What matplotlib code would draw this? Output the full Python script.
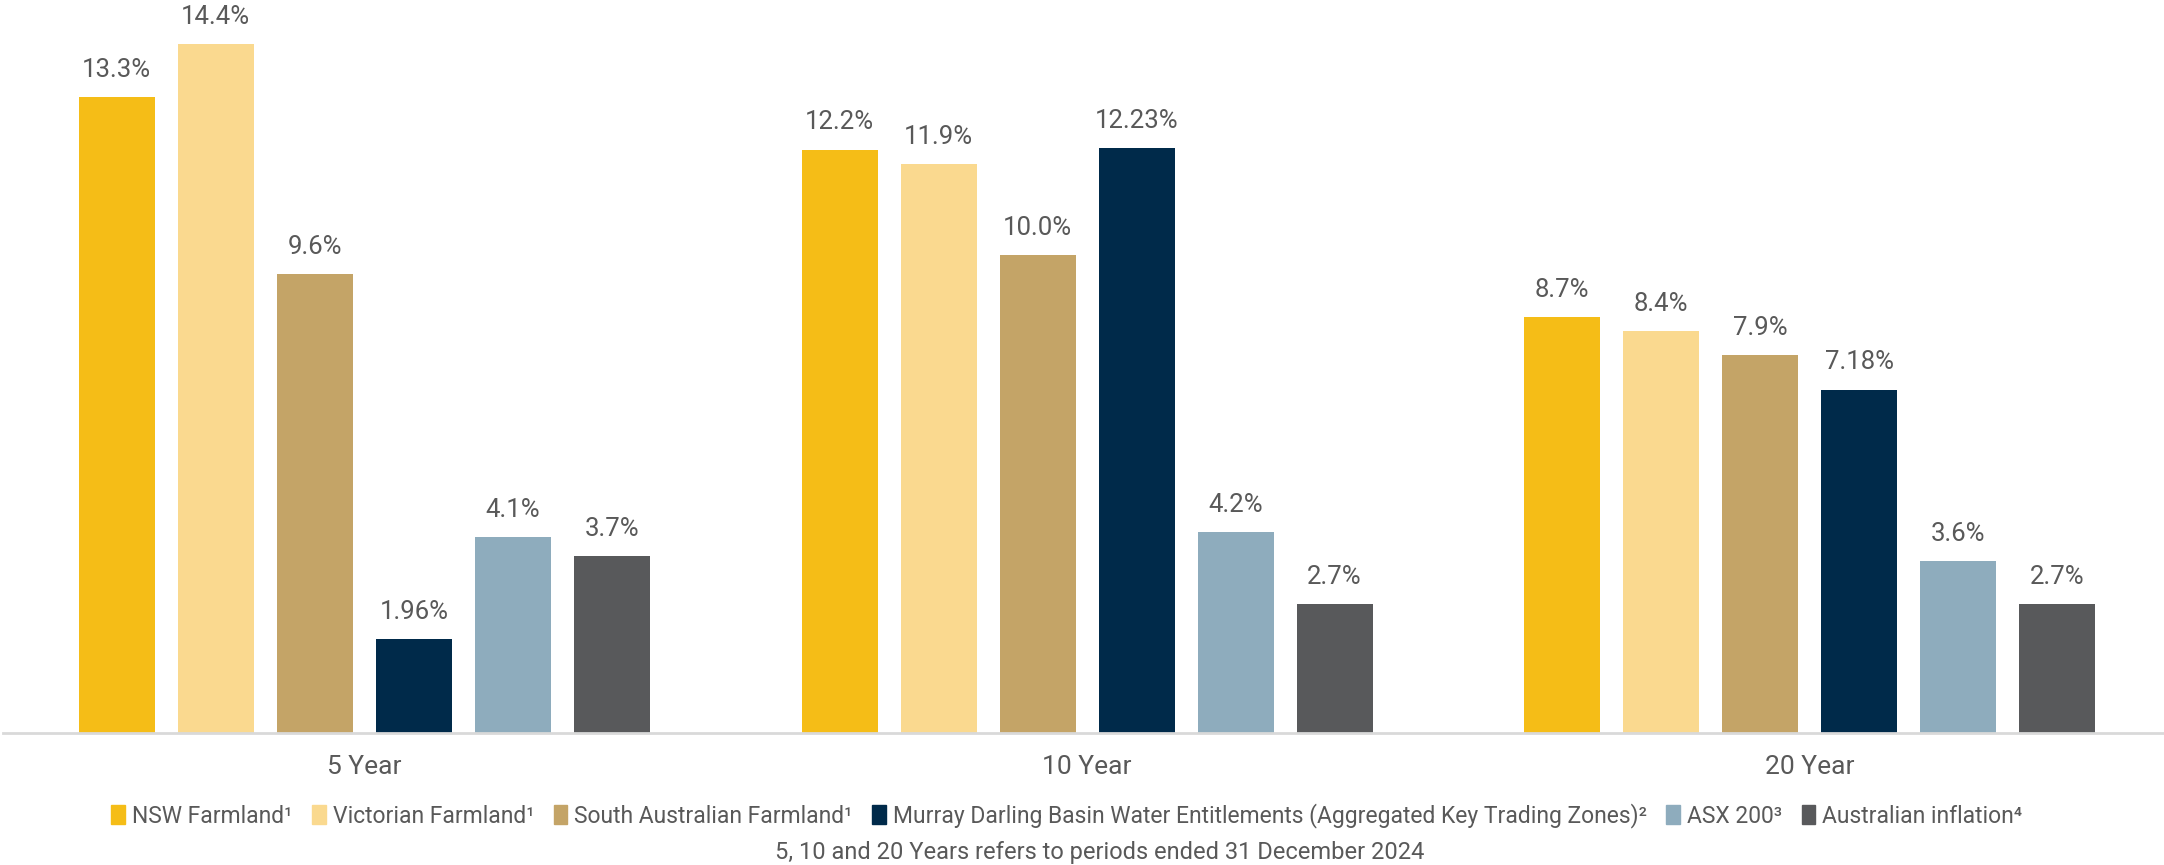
import matplotlib.pyplot as plt
from matplotlib import font_manager
from matplotlib.patches import Patch

# fuente estrecha si existe
nombres = {f.name for f in font_manager.fontManager.ttflist}
fuente = 'Liberation Sans Narrow' if 'Liberation Sans Narrow' in nombres else 'Roboto'
plt.rcParams['font.family'] = [fuente, 'DejaVu Sans']

periodos = ['5 Year', '10 Year', '20 Year']
series = ['NSW Farmland¹', 'Victorian Farmland¹', 'South Australian Farmland¹',
          'Murray Darling Basin Water Entitlements (Aggregated Key Trading Zones)²',
          'ASX 200³', 'Australian inflation⁴']
nsw = [13.3, 12.2, 8.7]
vic = [14.4, 11.9, 8.4]
sa = [9.6, 10.0, 7.9]
murray = [1.96, 12.23, 7.18]
asx = [4.1, 4.2, 3.6]
inflacion = [3.7, 2.7, 2.7]
colores = ['#F5BD17', '#FAD98F', '#C4A467', '#002A4A', '#8EACBD', '#58595B']
nota = '5, 10 and 20 Years refers to periods ended 31 December 2024'

datos = [nsw, vic, sa, murray, asx, inflacion]
gris = '#595959'

fig = plt.figure(figsize=(21.64, 8.65), dpi=100)
ax = fig.add_axes([0.0014, 0.1526, 0.9986, 0.8474])

paso = 0.137
ancho = 0.105
for i, (vals, c) in enumerate(zip(datos, colores)):
    xs = [g + (i - 2.5) * paso for g in range(len(periodos))]
    barras = ax.bar(xs, vals, width=ancho, color=c, zorder=2)
    for b, v in zip(barras, vals):
        ax.annotate(f'{v}%', (b.get_x() + b.get_width() / 2, v),
                    xytext=(0, 11), textcoords='offset points',
                    ha='center', va='bottom', fontsize=18.5, color=gris)

ax.set_xlim(-0.5, 2.49)
ax.set_ylim(0, 15.33)
ax.set_xticks(range(len(periodos)))
ax.set_xticklabels(periodos, fontsize=19, color=gris)
ax.tick_params(axis='x', length=0, pad=16)
ax.set_yticks([])
for lado in ['top', 'right', 'left']:
    ax.spines[lado].set_visible(False)
ax.spines['bottom'].set_color('#D9D9D9')
ax.spines['bottom'].set_linewidth(2)

handles = [Patch(color=c, label=s) for c, s in zip(colores, series)]
fig.legend(handles=handles, loc='center', bbox_to_anchor=(0.493, 0.057), ncol=6,
           frameon=False, fontsize=16.5, handlelength=0.6, handleheight=0.9,
           handletextpad=0.3, columnspacing=0.85, labelcolor=gris)
fig.text(0.508, 0.015, nota, ha='center', va='center', fontsize=17, color=gris)

plt.savefig('out.png', dpi=100)
